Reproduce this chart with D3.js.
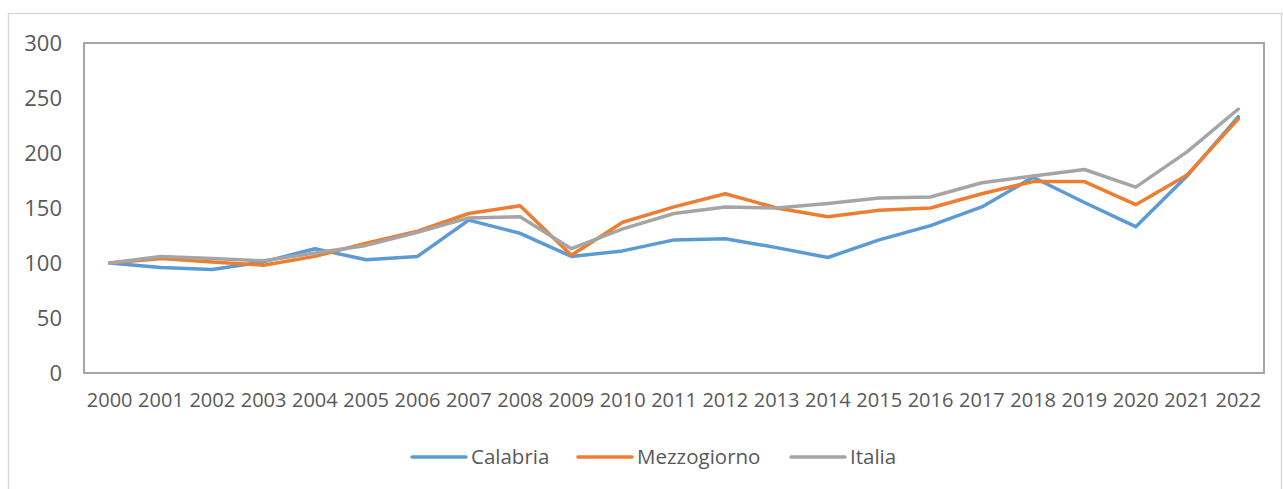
<!DOCTYPE html>
<html><head><meta charset="utf-8">
<script src="https://cdn.jsdelivr.net/npm/d3@7"></script>
<style>body{margin:0;background:#fff}svg{display:block}</style>
</head><body>
<svg id="c" width="1283" height="489"></svg>
<script>
const years = ["2000","2001","2002","2003","2004","2005","2006","2007","2008","2009","2010","2011","2012","2013","2014","2015","2016","2017","2018","2019","2020","2021","2022"];
const calabria = [100,96,94,101,113,103,106,139,127,106,111,121,122,114,105,121,134,151,178,155,133,179,233];
const mezzogiorno = [100,104,101,98,106,118,129,145,152,107,137,151,163,150,142,148,150,163,174,174,153,180,231];
const italia = [100,106,104,102,109,116,128,141,142,113,131,145,151,150,154,159,160,173,179,185,169,201,240];
const yTicks = [0,50,100,150,200,250,300];
const seriesNames = ["Calabria","Mezzogiorno","Italia"];
const seriesColors = ["#5B9BD5","#ED7D31","#A5A5A5"];

const svg = d3.select("#c");
const font = "'Open Sans', sans-serif";
const txt = "#595959";

// outer chart frame
svg.append("rect").attr("x",8.5).attr("y",13.5).attr("width",1273).attr("height",490)
  .attr("fill","#fff").attr("stroke","#d9d9d9").attr("stroke-width",1.5);

const L=84, R=1264, T=43, B=373;
const x = d3.scaleBand().domain(years).range([L,R]).padding(0);
const y = d3.scaleLinear().domain([0,300]).range([B,T]);

// plot area border
svg.append("rect").attr("x",L).attr("y",T).attr("width",R-L).attr("height",B-T)
  .attr("fill","none").attr("stroke","#a6a6a6").attr("stroke-width",2);

// y axis labels
const ya = svg.append("g").attr("transform",`translate(${L},0)`)
  .call(d3.axisLeft(y).tickValues(yTicks).tickSize(0).tickPadding(22));
ya.select(".domain").remove();
ya.selectAll("text").attr("font-family",font).attr("font-size",22).attr("fill",txt);

// x axis labels
const xa = svg.append("g").attr("transform",`translate(0,${B})`)
  .call(d3.axisBottom(x).tickSize(0).tickPadding(20));
xa.select(".domain").remove();
xa.selectAll("text").attr("font-family",font).attr("font-size",20).attr("fill",txt);

const line = d3.line().x((d,i)=>x(years[i])+x.bandwidth()/2).y(d=>y(d));
[calabria,mezzogiorno,italia].forEach((s,k)=>{
  svg.append("path").datum(s).attr("d",line).attr("fill","none")
    .attr("stroke",seriesColors[k]).attr("stroke-width",3.5)
    .attr("stroke-linejoin","round").attr("stroke-linecap","round");
});

// legend
const legX = [412,578,791];
const lg = svg.append("g");
seriesNames.forEach((n,k)=>{
  lg.append("line").attr("x1",legX[k]).attr("x2",legX[k]+54).attr("y1",457).attr("y2",457)
    .attr("stroke",seriesColors[k]).attr("stroke-width",3.5).attr("stroke-linecap","round");
  lg.append("text").attr("x",legX[k]+59).attr("y",464).text(n)
    .attr("font-family",font).attr("font-size",20.5).attr("fill",txt);
});
</script>
</body></html>
